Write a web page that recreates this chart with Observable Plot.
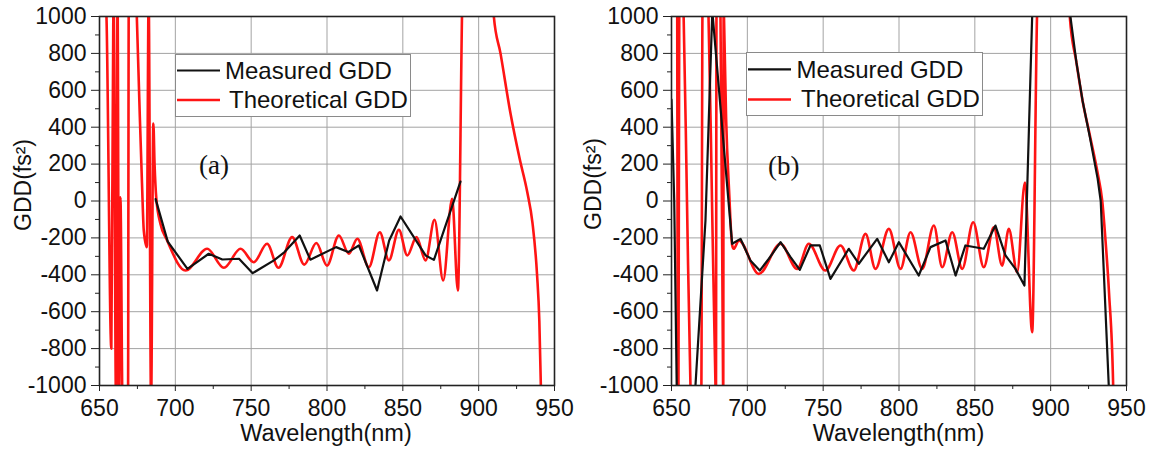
<!DOCTYPE html>
<html><head><meta charset="utf-8">
<script src="https://cdn.jsdelivr.net/npm/d3@7"></script>
<script src="https://cdn.jsdelivr.net/npm/@observablehq/plot@0.6"></script>
<style>
html,body{margin:0;padding:0;background:#fff;}
#root{position:relative;width:1159px;height:450px;overflow:hidden;font-family:"Liberation Sans",Arial,sans-serif;}
#root > svg{position:absolute;top:0;}
</style></head><body><div id="root"></div>
<script>
// ---- tick values ----
const xMajor = [650, 700, 750, 800, 850, 900, 950];
const xMinor = [675, 725, 775, 825, 875, 925];
const yMajor = [-1000, -800, -600, -400, -200, 0, 200, 400, 600, 800, 1000];
const yMinor = [-900, -700, -500, -300, -100, 100, 300, 500, 700, 900];

// ---- series names ----
const seriesNames = ["Measured GDD", "Theoretical GDD"];
const panelNames = ["(a)", "(b)"];
const xTitle = "Wavelength(nm)";
const yTitle = "GDD(fs²)";

// ---- panel (a) : [wavelength nm, GDD fs²] (values beyond ±1000 are off-chart) ----
const measuredA = [[687,10],[695,-220],[708,-368],[722,-286],[731,-317],[742,-313],[751,-391],[765,-322],[772,-277],[782,-187],[789,-318],[806,-250],[814,-277],[821,-241],[833,-485],[841,-214],[848.5,-84],[858,-205],[865,-295],[870.5,-319],[888,105]];
const theoreticalA = [[650,1500],[654.2,1100],[654.6,1000],[657.8,-800],[659.1,1000],[659.3,1100],[660.9,-1100],[661.9,1100],[662.9,-1100],[663.8,20],[665.2,-1100],[668.8,-1100],[669.3,1100],[674.2,1100],[674.6,1000],[676.5,480],[678,100],[679.2,-160],[681.2,-250],[682.4,1100],[684,-1100],[685.5,420],[686.3,200],[687.5,10],[690.2,-124],[694.6,-214],[706.7,-377],[721,-259],[732,-362],[743,-259],[751.7,-332],[760.5,-232],[768,-362],[777,-196],[785,-345],[793,-228],[800,-350],[807.8,-187],[814.4,-286],[820,-205],[827.6,-359],[834.8,-169],[840.8,-322],[847.4,-156],[852.9,-295],[859,-196],[865,-322],[870.9,-102],[876.6,-431],[882.5,12],[886.3,-485],[889,1000],[889.2,1100],[909.6,1100],[910,1000],[914.4,800],[921,474],[927,230],[932,50],[935.5,-120],[938.5,-400],[940,-650],[941,-1000],[941.2,-1100]];

// ---- panel (b) ----
const measuredB = [[650,550],[651.8,0],[653.6,-1100],[665.5,-1100],[665.8,-1000],[672.4,-106],[676.8,1000],[677,1020],[686,150],[690,-232],[695.5,-205],[702,-322],[708.2,-377],[714.2,-313],[721.9,-223],[728.5,-304],[734.6,-373],[741.6,-241],[747.8,-241],[754.8,-422],[766.9,-259],[773.5,-340],[785.6,-205],[793.3,-332],[799.9,-223],[813,-404],[820.8,-250],[830.7,-214],[837.3,-404],[843.8,-241],[855.9,-259],[863.6,-133],[870.2,-295],[876.8,-368],[882.7,-458],[887.8,1000],[888,1100],[912.5,1100],[913,1000],[917,750],[921,545],[926,340],[931,120],[933,0],[938.3,-1000],[938.5,-1100]];
const theoreticalB = [[650,1500],[653.6,1500],[654.3,-1500],[655.4,1500],[657.5,1100],[658,1000],[660.2,0],[662.5,-1000],[663,-1100],[669.6,-1100],[670.5,1100],[673.8,1100],[674.4,1000],[676.7,0],[679,-1000],[679.3,-1100],[679.7,1100],[681.9,1100],[682.3,1000],[684,-1000],[684.1,-1100],[684.4,1100],[684.6,1000],[686,450],[688,50],[690,-240],[691,-259],[694.4,-214],[707.6,-395],[721.9,-232],[732.9,-368],[740.5,-232],[751.5,-377],[761.4,-241],[770.2,-377],[777.9,-178],[784.5,-368],[793.3,-151],[801,-368],[807.6,-169],[815.3,-368],[823,-133],[828.5,-359],[835.1,-169],[841.7,-368],[848.9,-115],[855.9,-359],[862.5,-142],[868,-350],[872.4,-151],[877.9,-386],[883,100],[887.8,-711],[891,1000],[891.3,1100],[912.3,1100],[912.6,1000],[917,750],[921,545],[926,350],[931,150],[934,0],[936,-196],[938.5,-500],[941.2,-1000],[941.4,-1100]];

const FONT = '"Liberation Sans", Arial, sans-serif';
const RED = "#ff1414";

function panel(meas, theo, width, mLeft, mRight) {
  return Plot.plot({
    width, height: 450,
    marginLeft: mLeft, marginRight: mRight, marginTop: 16, marginBottom: 65,
    x: {domain: [650, 950], label: null},
    y: {domain: [-1000, 1000], label: null},
    style: {fontFamily: FONT, fontSize: "23px", color: "#111", background: "transparent", overflow: "visible"},
    marks: [
      Plot.gridX(xMajor, {stroke: "#a3a3a3", strokeOpacity: 1, strokeWidth: 1}),
      Plot.gridY(yMajor, {stroke: "#a3a3a3", strokeOpacity: 1, strokeWidth: 1}),
      Plot.line(theo, {x: d => d[0], y: d => d[1], stroke: RED, strokeWidth: 2.6, curve: "monotone-x", clip: true}),
      Plot.line(meas, {x: d => d[0], y: d => d[1], stroke: "#111", strokeWidth: 2.2, clip: true}),
      Plot.axisX(xMajor, {tickSize: 6, tickPadding: 8, tickFormat: d => String(d), label: null, fontSize: 23, stroke: "#222"}),
      Plot.axisX(xMinor, {tickSize: 4, tickFormat: () => "", label: null, stroke: "#222"}),
      Plot.axisY(yMajor, {tickSize: 8, tickPadding: 5, tickFormat: d => String(d), label: null, fontSize: 23, stroke: "#222"}),
      Plot.axisY(yMinor, {tickSize: 4, tickFormat: () => "", label: null, stroke: "#222"}),
      Plot.frame({stroke: "#222", strokeWidth: 1.6})
    ]
  });
}

const root = document.getElementById("root");
const pa = panel(measuredA, theoreticalA, 580, 99, 26);
pa.style.left = "0px";
root.appendChild(pa);
const pb = panel(measuredB, theoreticalB, 579, 91, 33);
pb.style.left = "580px";
root.appendChild(pb);

// ---- overlay: legends, panel tags, axis titles ----
const ov = d3.create("svg").attr("width", 1159).attr("height", 450)
  .style("position", "absolute").style("left", "0px").style("top", "0px")
  .style("font-family", FONT).style("pointer-events", "none");

const legends = [
  {box: [175, 54, 235, 62], line: [177, 220], ys: [70.5, 100], tx: [225, 229], base: [79, 107.5]},
  {box: [746, 52, 236, 63], line: [748, 791], ys: [69.3, 99.5], tx: [796.5, 801], base: [77.5, 106.7]}
];
const colors = ["#111", RED];
legends.forEach(L => {
  ov.append("rect").attr("x", L.box[0] + 0.5).attr("y", L.box[1] + 0.5)
    .attr("width", L.box[2]).attr("height", L.box[3])
    .attr("fill", "#fff").attr("stroke", "#8a8a8a").attr("stroke-width", 1);
  seriesNames.forEach((name, i) => {
    ov.append("line").attr("x1", L.line[0]).attr("x2", L.line[1])
      .attr("y1", L.ys[i]).attr("y2", L.ys[i])
      .attr("stroke", colors[i]).attr("stroke-width", i ? 2.6 : 2.2);
    ov.append("text").attr("x", L.tx[i]).attr("y", L.base[i])
      .attr("font-size", 24).attr("fill", "#111").text(name);
  });
});

[[199, 174], [768, 174.5]].forEach((p, i) => {
  ov.append("text").attr("x", p[0]).attr("y", p[1])
    .attr("font-family", '"Liberation Serif", "Times New Roman", serif')
    .attr("font-size", 27).attr("fill", "#111").text(panelNames[i]);
});

[326, 898.5].forEach(cx => {
  ov.append("text").attr("x", cx).attr("y", 441).attr("text-anchor", "middle")
    .attr("font-size", 23.5).attr("fill", "#111").text(xTitle);
});
[[30.5, 185], [601, 184]].forEach(p => {
  ov.append("text").attr("transform", `translate(${p[0]},${p[1]}) rotate(-90)`)
    .attr("text-anchor", "middle").attr("font-size", 23).attr("fill", "#111").text(yTitle);
});
root.appendChild(ov.node());
</script>
</body></html>
